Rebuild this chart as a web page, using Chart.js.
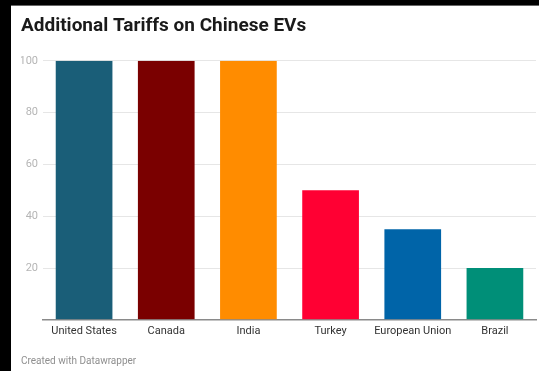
<!DOCTYPE html>
<html>
<head>
<meta charset="utf-8">
<script src="https://cdn.jsdelivr.net/npm/chart.js@4"></script>
<style>
  html, body { margin: 0; padding: 0; background: #000; width: 539px; height: 371px; overflow: hidden; }
  #wrap { position: absolute; left: 11px; top: 5px; width: 528px; height: 366px; background: #fff; border-top: 1px solid #666; box-sizing: border-box; }
  #c { position: absolute; left: 0; top: 0; }
  #footer { position: absolute; left: 10px; top: 349px; font: 10px Roboto, sans-serif; color: #8f8f8f; }
</style>
</head>
<body>
<div id="wrap">
  <canvas id="c" width="528" height="365"></canvas>
  <div id="footer">Created with Datawrapper</div>
</div>
<script>
const categories = ["United States", "Canada", "India", "Turkey", "European Union", "Brazil"];
const tariffs = [100, 100, 100, 50, 35, 20];
const barColors = ["#1a5e78", "#7a0000", "#ff8c00", "#ff0033", "#0064a8", "#008f78"];
const yTicks = [0, 20, 40, 60, 80, 100];

new Chart(document.getElementById('c'), {
  type: 'bar',
  data: {
    labels: categories,
    datasets: [{
      data: tariffs,
      backgroundColor: barColors,
      borderWidth: 0,
      categoryPercentage: 1,
      barPercentage: 0.69
    }]
  },
  options: {
    responsive: false,
    animation: false,
    devicePixelRatio: 1,
    layout: { padding: { left: 10, right: 3, top: 0, bottom: 28 } },
    plugins: {
      legend: { display: false },
      tooltip: { enabled: false },
      title: {
        display: true,
        text: 'Additional Tariffs on Chinese EVs',
        align: 'start',
        color: '#1a1a1a',
        font: { family: 'Roboto', size: 19, weight: 'bold' },
        padding: { top: 9, bottom: 23 }
      }
    },
    scales: {
      x: {
        grid: { display: false, drawTicks: false },
        border: { display: true, color: '#8a8a8a', width: 1.5 },
        ticks: { color: '#333', font: { family: 'Roboto', size: 11 }, padding: 5, maxRotation: 0, autoSkip: false }
      },
      y: {
        min: 0, max: 100,
        afterBuildTicks: (s) => { s.ticks = yTicks.map(v => ({ value: v })); },
        afterFit: (s) => { s.width = 22; },
        grid: { color: '#e6e6e6', drawTicks: false },
        border: { display: false },
        ticks: {
          color: '#b5b5b5', font: { family: 'Roboto', size: 11 }, padding: 5,
          callback: (v) => v === 0 ? '' : v
        }
      }
    }
  }
});
</script>
</body>
</html>
